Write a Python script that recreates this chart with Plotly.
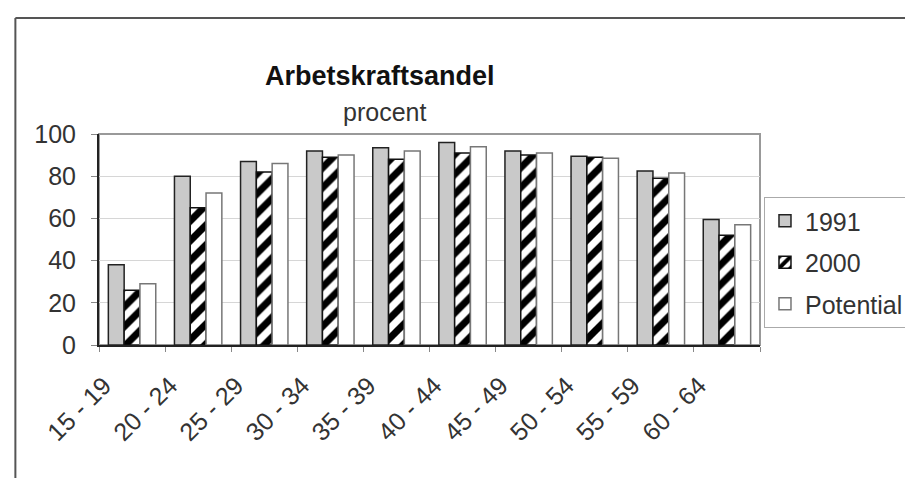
import plotly.graph_objects as go

categories = ["15 - 19", "20 - 24", "25 - 29", "30 - 34", "35 - 39",
              "40 - 44", "45 - 49", "50 - 54", "55 - 59", "60 - 64"]
v1991 = [38, 80, 87, 92, 93.5, 96, 92, 89.5, 82.5, 59.5]
v2000 = [26, 65, 82, 89, 88, 91, 90, 89, 79, 52]
vpotential = [29, 72, 86, 90, 92, 94, 91, 88.5, 81.5, 57]
y_ticks = [0, 20, 40, 60, 80, 100]

FONT = "Liberation Sans, Arial, sans-serif"

fig = go.Figure()
fig.add_trace(go.Bar(
    x=categories, y=v1991, name="1991", legendgroup="a",
    marker=dict(color="#c9c9c9", line=dict(color="#222222", width=1.5)),
))
fig.add_trace(go.Bar(
    x=categories, y=v2000, name="2000", legendgroup="b",
    marker=dict(color="white", line=dict(color="#111111", width=1.5),
                pattern=dict(shape="/", fgcolor="black", bgcolor="white",
                             fgopacity=1, size=14, solidity=0.5)),
))
fig.add_trace(go.Bar(
    x=categories, y=vpotential, name="Potential", legendgroup="c",
    marker=dict(color="white", line=dict(color="#777777", width=1.5)),
))

L, R, T, B = 91, 755, 126, 337
W, H = 913, 478
pw, ph = R - L, B - T

def px(x):
    return (x - L) / pw

def py(y):
    return (B - y) / ph

shapes = [
    dict(type="rect", xref="paper", yref="paper", x0=0, x1=1, y0=0, y1=1,
         line=dict(color="#999999", width=2), layer="below"),
    dict(type="line", xref="paper", yref="paper", x0=px(7), x1=px(7),
         y0=py(W), y1=py(10), line=dict(color="#555555", width=2)),
    dict(type="line", xref="paper", yref="paper", x0=px(7), x1=px(W + 20),
         y0=py(10), y1=py(10), line=dict(color="#555555", width=2)),
]

annotations = [
    dict(text="<b>Arbetskraftsandel</b>", xref="paper", yref="paper",
         x=px(373), y=py(68), showarrow=False, xanchor="center", yanchor="middle",
         font=dict(size=27, color="#111111", family=FONT)),
    dict(text="procent", xref="paper", yref="paper",
         x=px(378), y=py(104), showarrow=False, xanchor="center", yanchor="middle",
         font=dict(size=25, color="#333333", family=FONT)),
]

fig.update_layout(
    width=W, height=H,
    margin=dict(l=L, r=W - R, t=T, b=H - B),
    paper_bgcolor="white", plot_bgcolor="white",
    font=dict(family=FONT, size=24, color="#333333"),
    barmode="group", bargap=0.283, bargroupgap=0,
    showlegend=True,
    legend=dict(x=px(759), y=py(189), xanchor="left", yanchor="top",
                bordercolor="#aaaaaa", borderwidth=1, bgcolor="white",
                traceorder="grouped", tracegroupgap=6,
                font=dict(size=25, color="#333333", family=FONT)),
    shapes=shapes, annotations=annotations,
    xaxis=dict(type="category", showline=True, linecolor="#222222", linewidth=2,
               ticks="outside", tickson="boundaries", ticklen=5, tickcolor="#888888",
               tickangle=-45, showgrid=False, ticklabelshift=-28, ticklabelstandoff=14,
               tickfont=dict(size=25, color="#333333")),
    yaxis=dict(range=[0, 100], tickvals=y_ticks, showline=True, linecolor="#222222",
               linewidth=2, ticks="outside", ticklen=6, tickcolor="#888888",
               showgrid=True, gridcolor="#d6d6d6", gridwidth=1, zeroline=False,
               ticklabelstandoff=10, tickfont=dict(size=25, color="#333333")),
)

fig.write_html("out.html")
